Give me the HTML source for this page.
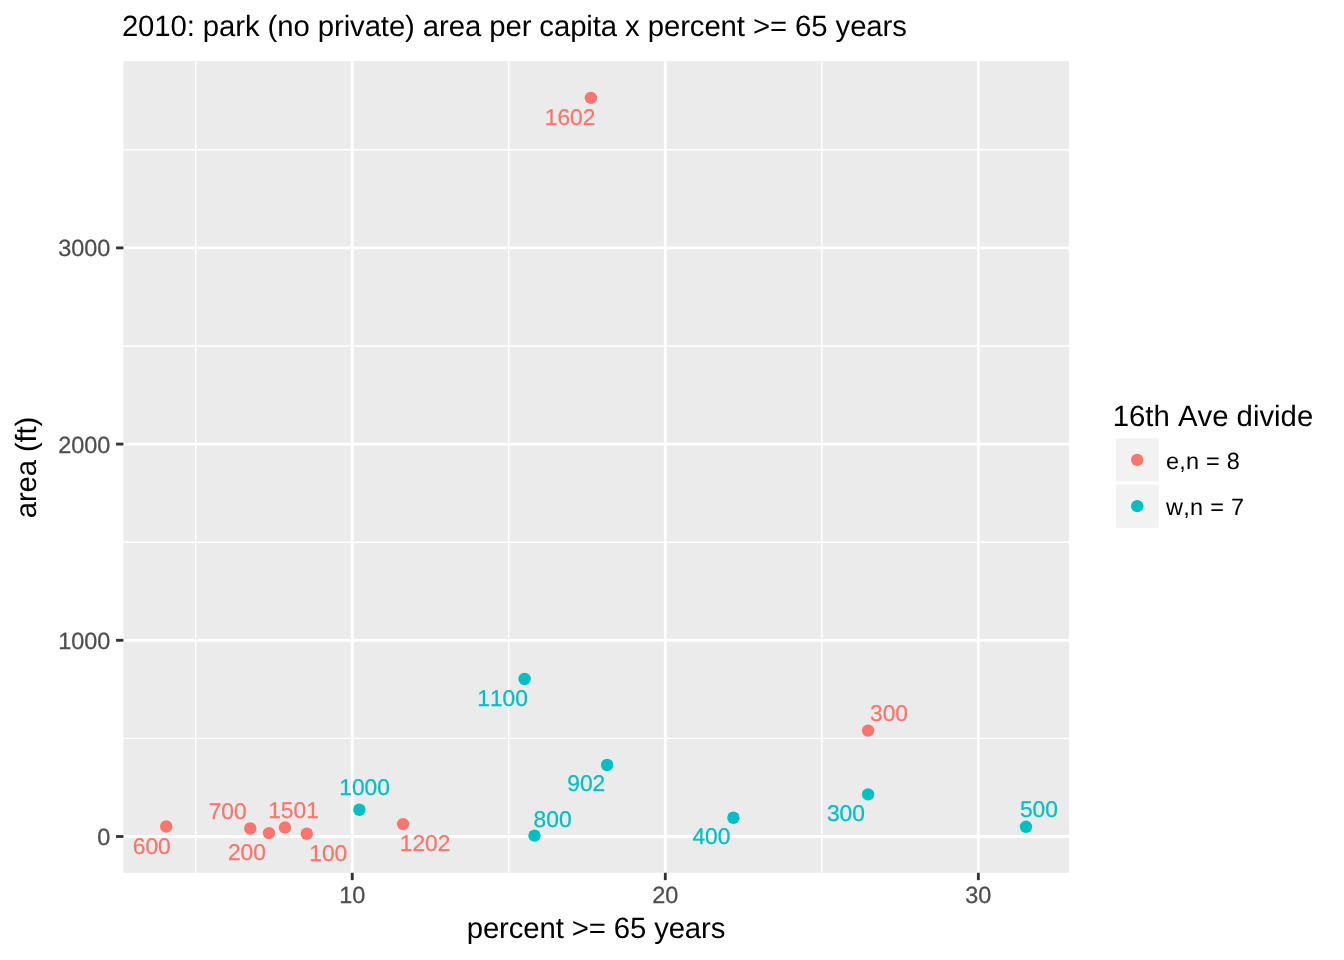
<!DOCTYPE html>
<html lang="en"><head><meta charset="utf-8"><title>2010: park (no private) area per capita x percent &gt;= 65 years</title>
<style>html,body{margin:0;padding:0;background:#fff}body{width:1344px;height:960px;overflow:hidden}svg{display:block}text{font-family:"Liberation Sans",Arial,Helvetica,sans-serif;font-kerning:none;text-rendering:geometricPrecision}</style></head><body>
<svg width="1344" height="960" viewBox="0 0 1344 960">
<rect x="0" y="0" width="1344" height="960" fill="#ffffff"/>
<rect x="123.4" y="61.15" width="945.50" height="811.65" fill="#EBEBEB"/>
<g stroke="#ffffff" stroke-width="1.42" fill="none">
<line x1="123.4" x2="1068.9" y1="738.4" y2="738.4"/>
<line x1="123.4" x2="1068.9" y1="542.2" y2="542.2"/>
<line x1="123.4" x2="1068.9" y1="346.0" y2="346.0"/>
<line x1="123.4" x2="1068.9" y1="149.8" y2="149.8"/>
<line y1="61.15" y2="872.8" x1="195.7" x2="195.7"/>
<line y1="61.15" y2="872.8" x1="508.75" x2="508.75"/>
<line y1="61.15" y2="872.8" x1="821.8" x2="821.8"/>
</g>
<g stroke="#ffffff" stroke-width="2.85" fill="none">
<line x1="123.4" x2="1068.9" y1="836.5" y2="836.5"/>
<line x1="123.4" x2="1068.9" y1="640.3" y2="640.3"/>
<line x1="123.4" x2="1068.9" y1="444.1" y2="444.1"/>
<line x1="123.4" x2="1068.9" y1="247.9" y2="247.9"/>
<line y1="61.15" y2="872.8" x1="352.25" x2="352.25"/>
<line y1="61.15" y2="872.8" x1="665.3" x2="665.3"/>
<line y1="61.15" y2="872.8" x1="978.35" x2="978.35"/>
</g>
<g stroke="none">
<circle cx="590.9" cy="97.9" r="6.2" fill="#F8766D"/>
<circle cx="166.25" cy="826.5" r="6.2" fill="#F8766D"/>
<circle cx="250.25" cy="828.5" r="6.2" fill="#F8766D"/>
<circle cx="269.0" cy="833.1" r="6.2" fill="#F8766D"/>
<circle cx="285.0" cy="827.5" r="6.2" fill="#F8766D"/>
<circle cx="306.8" cy="833.75" r="6.2" fill="#F8766D"/>
<circle cx="403.1" cy="824.1" r="6.2" fill="#F8766D"/>
<circle cx="868.1" cy="730.6" r="6.2" fill="#F8766D"/>
<circle cx="359.4" cy="809.75" r="6.2" fill="#00BFC4"/>
<circle cx="524.6" cy="679.0" r="6.2" fill="#00BFC4"/>
<circle cx="607.1" cy="765.0" r="6.2" fill="#00BFC4"/>
<circle cx="534.5" cy="835.6" r="6.2" fill="#00BFC4"/>
<circle cx="733.4" cy="817.75" r="6.2" fill="#00BFC4"/>
<circle cx="868.1" cy="794.4" r="6.2" fill="#00BFC4"/>
<circle cx="1026.0" cy="826.8" r="6.2" fill="#00BFC4"/>
</g>
<g font-size="22.76px">
<text x="544.75" y="125.00" fill="#F8766D" stroke="#F8766D" stroke-width="0.25">1602</text>
<text x="132.80" y="854.00" fill="#F8766D" stroke="#F8766D" stroke-width="0.25">600</text>
<text x="208.65" y="819.00" fill="#F8766D" stroke="#F8766D" stroke-width="0.25">700</text>
<text x="227.90" y="860.00" fill="#F8766D" stroke="#F8766D" stroke-width="0.25">200</text>
<text x="268.20" y="817.75" fill="#F8766D" stroke="#F8766D" stroke-width="0.25">1501</text>
<text x="309.25" y="860.60" fill="#F8766D" stroke="#F8766D" stroke-width="0.25">100</text>
<text x="399.75" y="851.00" fill="#F8766D" stroke="#F8766D" stroke-width="0.25">1202</text>
<text x="870.00" y="720.90" fill="#F8766D" stroke="#F8766D" stroke-width="0.25">300</text>
<text x="339.25" y="795.00" fill="#00BFC4" stroke="#00BFC4" stroke-width="0.25">1000</text>
<text x="477.25" y="706.00" fill="#00BFC4" stroke="#00BFC4" stroke-width="0.25">1100</text>
<text x="567.25" y="791.00" fill="#00BFC4" stroke="#00BFC4" stroke-width="0.25">902</text>
<text x="533.60" y="826.50" fill="#00BFC4" stroke="#00BFC4" stroke-width="0.25">800</text>
<text x="692.40" y="844.40" fill="#00BFC4" stroke="#00BFC4" stroke-width="0.25">400</text>
<text x="826.90" y="821.00" fill="#00BFC4" stroke="#00BFC4" stroke-width="0.25">300</text>
<text x="1019.90" y="817.10" fill="#00BFC4" stroke="#00BFC4" stroke-width="0.25">500</text>
</g>
<g stroke="#333333" stroke-width="2.85" fill="none">
<line x1="116.07" x2="123.4" y1="836.5" y2="836.5"/>
<line x1="116.07" x2="123.4" y1="640.3" y2="640.3"/>
<line x1="116.07" x2="123.4" y1="444.1" y2="444.1"/>
<line x1="116.07" x2="123.4" y1="247.9" y2="247.9"/>
<line y1="872.8" y2="880.13" x1="352.25" x2="352.25"/>
<line y1="872.8" y2="880.13" x1="665.3" x2="665.3"/>
<line y1="872.8" y2="880.13" x1="978.35" x2="978.35"/>
</g>
<g font-size="23.47px" fill="#4D4D4D" stroke="#4D4D4D" stroke-width="0.25">
<text x="110.40" y="845.05" text-anchor="end">0</text>
<text x="110.40" y="648.85" text-anchor="end">1000</text>
<text x="110.40" y="452.65" text-anchor="end">2000</text>
<text x="110.40" y="256.45" text-anchor="end">3000</text>
<text x="352.25" y="902.75" text-anchor="middle">10</text>
<text x="665.30" y="902.75" text-anchor="middle">20</text>
<text x="978.35" y="902.75" text-anchor="middle">30</text>
</g>
<g font-size="29.33px" fill="#000000">
<text x="121.90" y="35.70" textLength="785.0" lengthAdjust="spacing">2010: park (no private) area per capita x percent &gt;= 65 years</text>
<text x="596.05" y="938.00" text-anchor="middle" textLength="258.65" lengthAdjust="spacing">percent &gt;= 65 years</text>
<text transform="translate(35.80,467.40) rotate(-90)" text-anchor="middle" textLength="101.6" lengthAdjust="spacing">area (ft)</text>
<text x="1112.70" y="426.25">16th Ave divide</text>
</g>
<rect x="1115.9" y="438.3" width="43.00" height="43.15" fill="#F2F2F2"/>
<rect x="1115.9" y="484.55" width="43.00" height="43.3" fill="#F2F2F2"/>
<circle cx="1137.25" cy="459.9" r="6.2" fill="#F8766D"/>
<circle cx="1137.25" cy="506.15" r="6.2" fill="#00BFC4"/>
<g font-size="23.47px" fill="#000000">
<text x="1166.00" y="469.40" textLength="73.9" lengthAdjust="spacing">e,n = 8</text>
<text x="1166.10" y="515.40" textLength="78.0" lengthAdjust="spacing">w,n = 7</text>
</g>
</svg></body></html>
